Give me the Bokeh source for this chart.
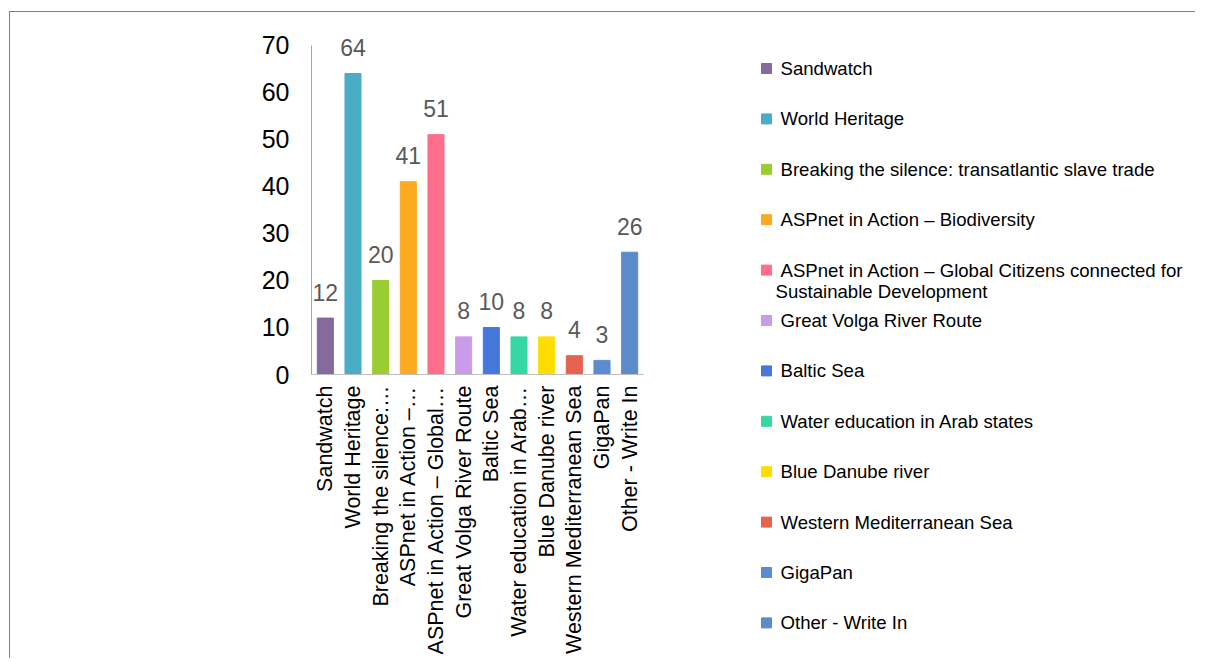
import math
from bokeh.plotting import figure
from bokeh.layouts import row, column
from bokeh.models import ColumnDataSource, Range1d, FixedTicker
from bokeh.core.properties import value
from bokeh.embed import file_html
from bokeh.resources import INLINE

# ---- data ----
categories = [
    "Sandwatch",
    "World Heritage",
    "Breaking the silence: transatlantic slave trade",
    "ASPnet in Action – Biodiversity",
    "ASPnet in Action – Global Citizens connected for Sustainable Development",
    "Great Volga River Route",
    "Baltic Sea",
    "Water education in Arab states",
    "Blue Danube river",
    "Western Mediterranean Sea",
    "GigaPan",
    "Other - Write In",
]
axis_labels = [
    "Sandwatch",
    "World Heritage",
    "Breaking the silence:…",
    "ASPnet in Action –…",
    "ASPnet in Action – Global…",
    "Great Volga River Route",
    "Baltic Sea",
    "Water education in Arab…",
    "Blue Danube river",
    "Western Mediterranean Sea",
    "GigaPan",
    "Other - Write In",
]
counts = [12, 64, 20, 41, 51, 8, 10, 8, 8, 4, 3, 26]
colors = ["#856A9C", "#4BACC6", "#9ACD32", "#FDAA1E", "#FF6E8C", "#C99BE8",
          "#4678DC", "#36D7A5", "#FFDD00", "#E5634F", "#5B8BD0", "#5B8BC9"]
y_ticks = [0, 10, 20, 30, 40, 50, 60, 70]

FONT = "Liberation Sans"

# ---- bar chart ----
xs = list(range(len(categories)))
src = ColumnDataSource(dict(x=xs, top=counts, color=colors,
                            lab=[str(v) for v in counts], name=categories))

p = figure(width=730, height=646, output_backend="svg", toolbar_location=None,
           x_range=Range1d(-0.5, len(categories) - 0.5), y_range=Range1d(0, 74),
           min_border_left=301, min_border_right=97, min_border_top=14,
           min_border_bottom=284)
p.outline_line_color = None
p.grid.grid_line_color = None

p.vbar(x="x", top="top", width=0.58, color="color", source=src)
p.text(x="x", y="top", text="lab", source=src, text_align="center",
       text_baseline="alphabetic", y_offset=-26, text_color="#595959",
       text_font=value(FONT), text_font_size="23px")

ya = p.yaxis[0]
ya.ticker = FixedTicker(ticks=y_ticks)
ya.bounds = (0, 70)
ya.axis_line_color = "#a6a6a6"
ya.major_tick_line_color = None
ya.minor_tick_line_color = None
ya.major_tick_out = 0
ya.major_tick_in = 0
ya.major_label_standoff = 22
ya.major_label_text_font = FONT
ya.major_label_text_font_size = "25px"
ya.major_label_text_color = "#000000"

xa = p.xaxis[0]
xa.ticker = FixedTicker(ticks=xs)
xa.major_label_overrides = {i: t for i, t in enumerate(axis_labels)}
xa.major_label_orientation = math.pi / 2
xa.axis_line_color = "#bfbfbf"
xa.major_tick_line_color = None
xa.minor_tick_line_color = None
xa.major_tick_out = 0
xa.major_tick_in = 0
xa.major_label_standoff = 11
xa.major_label_text_font = FONT
xa.major_label_text_font_size = "21.5px"
xa.major_label_text_color = "#000000"

# ---- legend panel (data units = pixels) ----
LW, LH = 455, 646
lg = figure(width=LW, height=LH, output_backend="svg", toolbar_location=None,
            x_range=Range1d(0, LW), y_range=Range1d(LH, 0),
            min_border=0, min_border_left=0, min_border_right=0,
            min_border_top=0, min_border_bottom=0)
lg.axis.visible = False
lg.grid.visible = False
lg.outline_line_color = None

step = 50.4
y0 = 56
ly = [y0 + step * i for i in range(len(categories))]
first_lines, more = [], []
for name, yy in zip(categories, ly):
    if len(name) > 50:
        cut = name.rfind(" ", 0, 49)
        first_lines.append(name[:cut])
        more.append((name[cut + 1:], yy + 21))
    else:
        first_lines.append(name)
lsrc = ColumnDataSource(dict(x=[26] * len(categories), y=ly, color=colors,
                             t=first_lines, tx=[40] * len(categories)))
lg.rect(x="x", y="y", width=10, height=10, color="color", source=lsrc)
lg.text(x="tx", y="y", text="t", source=lsrc, text_baseline="middle",
        text_align="left", text_color="#000000", text_font=value(FONT),
        text_font_size="18.6px")
if more:
    msrc = ColumnDataSource(dict(x=[35] * len(more), y=[m[1] for m in more],
                                 t=[m[0] for m in more]))
    lg.text(x="x", y="y", text="t", source=msrc, text_baseline="middle",
            text_align="left", text_color="#000000", text_font=value(FONT),
            text_font_size="18.6px")

layout = row(column(p), column(lg),
             styles={"border-top": "1px solid #808080",
                     "border-left": "1px solid #808080",
                     "margin-top": "11px", "margin-left": "9px"})

open("out.html", "w").write(file_html(layout, INLINE))
